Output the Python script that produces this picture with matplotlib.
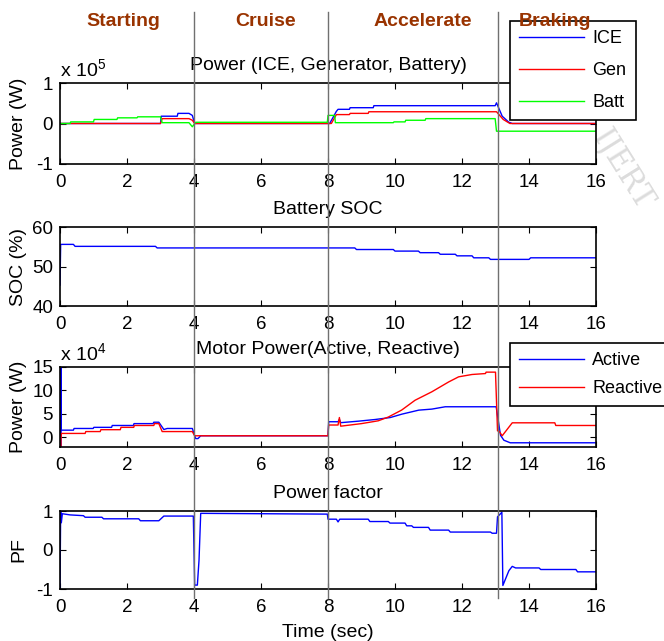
import matplotlib
matplotlib.use("Agg")
import matplotlib.pyplot as plt
from matplotlib import transforms
from matplotlib.lines import Line2D

plt.rcParams["font.family"] = ["Liberation Sans", "DejaVu Sans"]
plt.rcParams["mathtext.fontset"] = "custom"
plt.rcParams["mathtext.rm"] = "Liberation Sans"
plt.rcParams["mathtext.it"] = "Liberation Sans"
plt.rcParams["axes.unicode_minus"] = False
plt.rcParams["font.size"] = 14

# ---- data ----
PHASES = ["Starting", "Cruise", "Accelerate", "Braking"]
PHASE_BOUNDS = [4, 8, 13.08]

# power, x 1e5 W
T_ICE = [0, 3.0, 3.02, 3.5, 3.52, 3.85, 3.95, 4.02, 8.05, 8.25, 8.3, 8.64, 8.66, 9.35, 9.37,
         12.99, 13.03, 13.2, 13.4, 13.5, 16]
P_ICE = [0, 0, 0.18, 0.18, 0.25, 0.25, 0.2, 0, 0, 0.30, 0.35, 0.35, 0.39, 0.39, 0.44,
         0.44, 0.51, 0.18, 0.03, 0.0, 0.0]
T_GEN = [0, 3.0, 3.05, 3.85, 3.95, 4.02, 8.1, 8.25, 8.64, 8.66, 9.2, 9.22, 13.03, 13.23, 13.43, 16]
P_GEN = [0, 0, 0.12, 0.12, 0.08, 0, 0, 0.22, 0.22, 0.25, 0.25, 0.29, 0.29, 0.10, 0.0, 0.0]
T_BATT = [0, 0.3, 0.32, 1.0, 1.02, 1.7, 1.72, 2.3, 2.32, 3.0, 3.05, 3.85, 3.95, 4.05, 7.98, 8.0,
          8.2, 8.22, 9.95, 9.97, 10.3, 10.32, 10.9, 10.92, 12.99, 13.03, 16]
P_BATT = [0, 0, 0.04, 0.04, 0.1, 0.1, 0.14, 0.14, 0.165, 0.165, 0.02, 0.02, -0.08, 0.03, 0.03, 0.2,
          0.2, 0.02, 0.02, 0.04, 0.04, 0.08, 0.08, 0.12, 0.12, -0.19, -0.19]

# battery state of charge, %
T_SOC = [0, 0.02, 0.4, 0.45, 2.85, 2.9, 8.8, 8.85, 9.95, 10.0, 10.7, 10.75, 11.3, 11.35, 11.8,
         11.85, 12.3, 12.35, 12.8, 12.85, 14.0, 14.05, 16]
SOC = [45.3, 55.6, 55.6, 55.1, 55.1, 54.7, 54.7, 54.3, 54.3, 53.9, 53.9, 53.5, 53.5, 53.1, 53.1,
       52.7, 52.7, 52.2, 52.2, 51.8, 51.8, 52.2, 52.2]

# motor power, x 1e4 W
T_ACT = [0, 0.005, 0.01, 0.015, 0.02, 0.025, 0.03, 0.4, 0.42, 0.99, 1.01, 1.54, 1.56, 2.19, 2.21,
         2.78, 2.8, 2.95, 3.1, 3.2, 3.95, 4.05, 4.12, 4.2, 8.0, 8.02, 8.3, 8.34, 8.38, 8.92, 9.41,
         9.86, 10.21, 10.71, 11.1, 11.5, 13.02, 13.15, 13.25, 13.44, 16]
P_ACT = [-2, 15, -2, 15, -2, 15, 1.5, 1.5, 1.86, 1.86, 2.1, 2.1, 2.5, 2.5, 2.9,
         2.9, 3.2, 3.2, 1.64, 1.86, 1.86, -0.3, -0.3, 0.3, 0.3, 3.3, 3.3, 3.8, 3.1, 3.43, 3.78,
         4.2, 4.93, 5.78, 6.0, 6.5, 6.5, 0.4, -0.65, -1.2, -1.2]
T_REA = [0, 0.02, 0.04, 0.75, 0.77, 1.2, 1.22, 1.8, 1.82, 2.2, 2.22, 2.8, 2.82, 2.95, 3.05, 3.95,
         4.02, 8.0, 8.02, 8.3, 8.34, 8.38, 9.0, 9.5, 9.8, 10.2, 10.6, 11.1, 11.6, 11.9, 12.3, 12.7,
         12.72, 13.0, 13.06, 13.1, 13.2, 13.5, 14.77, 14.8, 16]
P_REA = [0, -2, 0.8, 0.8, 1.2, 1.2, 1.6, 1.6, 2.1, 2.1, 2.5, 2.5, 2.9, 2.9, 1.2, 1.2,
         0.3, 0.3, 2.6, 2.6, 4.2, 2.35, 2.9, 3.5, 4.3, 5.8, 7.9, 9.7, 11.8, 12.9, 13.4, 13.6,
         13.9, 13.9, 1.35, 1.35, 0.3, 3.07, 3.07, 2.5, 2.5]

# power factor
T_PF = [0, 0.02, 0.04, 0.07, 0.3, 0.7, 0.75, 1.25, 1.3, 2.35, 2.4, 2.95, 3.1, 3.98, 4.02, 4.1,
        4.15, 4.2, 7.98, 8.0, 8.25, 8.3, 8.35, 9.2, 9.25, 9.8, 9.85, 10.3, 10.35, 10.5, 10.55,
        11.0, 11.05, 11.6, 11.65, 12.85, 12.9, 13.03, 13.06, 13.15, 13.19, 13.22, 13.3, 13.4,
        13.5, 13.6, 14.3, 14.35, 15.4, 15.45, 16]
PF = [-1, 1, 0.7, 0.93, 0.9, 0.88, 0.84, 0.84, 0.8, 0.8, 0.75, 0.75, 0.87, 0.87, -0.9, -0.9,
      -0.26, 0.94, 0.92, 0.79, 0.79, 0.72, 0.79, 0.79, 0.73, 0.73, 0.69, 0.69, 0.62, 0.62, 0.58,
      0.58, 0.51, 0.51, 0.46, 0.46, 0.43, 0.43, 0.85, 0.93, 0.97, -0.91, -0.74, -0.53,
      -0.42, -0.46, -0.46, -0.5, -0.5, -0.56, -0.56]

XTICKS = list(range(0, 17, 2))
BROWN = "#993300"

fig = plt.figure(figsize=(6.64, 6.41), dpi=100)
W, H = 664, 641
AX_LEFT, AX_RIGHT = 60, 596


def add_axes(top, bottom):
    return fig.add_axes([AX_LEFT / W, 1 - bottom / H, (AX_RIGHT - AX_LEFT) / W, (bottom - top) / H])


def style(ax, ylim, yticks, ylabel, title):
    ax.set_xlim(0, 16)
    ax.set_ylim(*ylim)
    ax.set_xticks(XTICKS)
    ax.set_yticks(yticks)
    ax.tick_params(direction="in", top=True, right=True, length=4, width=0.8, labelsize=13.5)
    ax.tick_params(axis="x", pad=7)
    ax.tick_params(axis="y", pad=5)
    for sp in ax.spines.values():
        sp.set_linewidth(1.2)
    ax.set_title(title, fontsize=14, pad=9)
    ax.set_ylabel(ylabel, fontsize=14)
    ax.yaxis.set_label_coords(-33 / (AX_RIGHT - AX_LEFT), 0.5)


def legend(ax, y_top, **kw):
    leg = ax.legend(loc="upper left", bbox_to_anchor=(510 / W, 1 - y_top / H),
                    bbox_transform=fig.transFigure, fontsize=13, fancybox=False,
                    edgecolor="black", framealpha=1, handletextpad=0.45,
                    handlelength=3.6, borderaxespad=0, **kw)
    leg.get_frame().set_linewidth(1.2)


ax1 = add_axes(83, 164)
ax1.plot(T_ICE, P_ICE, color="#0000ff", lw=1.0, label="ICE")
ax1.plot(T_GEN, P_GEN, color="#ff0000", lw=1.0, label="Gen")
ax1.plot(T_BATT, P_BATT, color="#00ff00", lw=1.0, label="Batt")
style(ax1, (-1, 1), [-1, 0, 1], "Power (W)", "Power (ICE, Generator, Battery)")
ax1.text(0, 1.04, r"x 10$^{5}$", transform=ax1.transAxes, fontsize=14, va="bottom")
legend(ax1, 21, labelspacing=0.82, borderpad=0.52)

ax2 = add_axes(227, 306)
ax2.plot(T_SOC, SOC, color="#0000ff", lw=1.0)
style(ax2, (40, 60), [40, 50, 60], "SOC (%)", "Battery SOC")

ax3 = add_axes(367, 447)
ax3.plot(T_ACT, P_ACT, color="#0000ff", lw=1.0, label="Active")
ax3.plot(T_REA, P_REA, color="#ff0000", lw=1.0, label="Reactive")
style(ax3, (-2.1, 15), [0, 5, 10, 15], "Power (W)", "Motor Power(Active, Reactive)")
ax3.text(0, 1.04, r"x 10$^{4}$", transform=ax3.transAxes, fontsize=14, va="bottom")
legend(ax3, 343, labelspacing=0.63, borderpad=0.5)

ax4 = add_axes(511, 589)
ax4.plot(T_PF, PF, color="#0000ff", lw=1.0)
style(ax4, (-1, 1), [-1, 0, 1], "PF", "Power factor")
ax4.set_xlabel("Time (sec)", fontsize=14, labelpad=6)

# phase boundaries across the whole figure
blend = transforms.blended_transform_factory(ax1.transData, fig.transFigure)
for xb in PHASE_BOUNDS:
    fig.add_artist(Line2D([xb, xb], [1 - 12 / H, 1 - 598 / H], transform=blend,
                          color="#707070", lw=1.0, zorder=5))

label_x = [1.88, 6.15, 10.84, 14.78]
for name, xl in zip(PHASES, label_x):
    fig.text(xl, 1 - 21 / H, name, transform=blend, ha="center", va="center",
             fontsize=14, fontweight="bold", color=BROWN, zorder=6)

# faint watermark at the right margin
fig.text(622 / W, 1 - 170 / H, "IJERT", rotation=-58, fontsize=22, color="#dcdcdc",
         family="DejaVu Serif", ha="center", va="center", zorder=-1)

fig.savefig("out.png", dpi=100)
